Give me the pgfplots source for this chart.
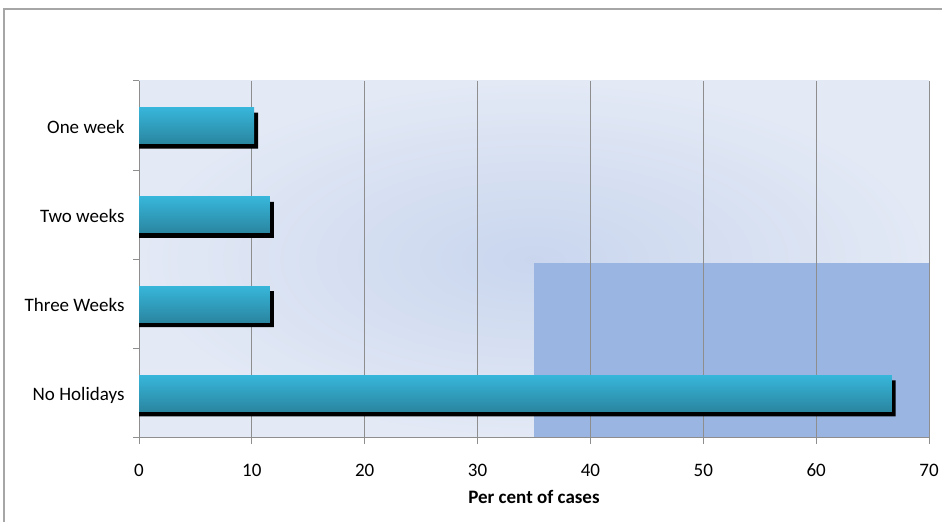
\documentclass[border=0pt]{standalone}
\usepackage{fontspec}
\setmainfont{Carlito}
\usepackage{pgfplots}
\pgfplotsset{compat=1.18}
\definecolor{barTop}{HTML}{37B6DA}
\definecolor{barBot}{HTML}{2A86A0}
\definecolor{bgIn}{HTML}{C9D6EE}
\definecolor{bgOut}{HTML}{E3E9F5}
\definecolor{darkRect}{HTML}{9BB5E3}
\definecolor{gridc}{HTML}{8E8E8E}
\definecolor{framec}{HTML}{A6A6A6}
\begin{document}
\begin{tikzpicture}
\draw[framec, line width=1.5pt] (4pt,0pt) -- (4pt,513pt) -- (942pt,513pt);
\begin{axis}[
 set layers=standard,
 at={(139pt,84pt)}, anchor=south west,
 scale only axis, width=790pt, height=357pt,
 xmin=0, xmax=70, ymin=-0.5, ymax=3.5,
 xtick={0,10,...,70},
 ytick={0,1,2,3},
 yticklabels={No Holidays, Three Weeks, Two weeks, One week},
 minor ytick={-0.5,0.5,1.5,2.5,3.5},
 axis x line*=bottom, axis y line*=left,
 axis line style={gridc, line width=1pt, -},
 tick align=outside,
 major tick length=6pt, minor tick length=6pt,
 major y tick style={draw=none},
 minor y tick style={gridc, line width=1pt},
 major x tick style={gridc, line width=1pt},
 xmajorgrids, grid style={gridc, line width=0.8pt},
 tick label style={font=\fontsize{19}{22}\selectfont, text=black},
 typeset ticklabels with strut,
 yticklabel style={xshift=-5pt, yshift=-3pt},
 xticklabel style={yshift=-14pt},
 /pgf/number format/assume math mode=true,
 xlabel={Per cent of cases},
 xlabel style={font=\fontsize{19}{22}\selectfont\bfseries, yshift=0pt},
 axis background/.style={shade, inner color=bgIn, outer color=bgOut},
 bars/.style={xbar, bar width=36pt, bar shift=0pt, draw=none, top color=barTop, bottom color=barBot},
]
\begin{pgfonlayer}{axis background}
\fill[darkRect] (axis cs:35,-0.5) rectangle (axis cs:70,1.46);
\end{pgfonlayer}
\addplot[xbar, bar width=36pt, bar shift=-5pt, draw=none, fill=black, forget plot]
  coordinates {(67.05,0) (11.95,1) (11.95,2) (10.55,3)};
\addplot[bars] coordinates {(66.7,0)};
\addplot[bars] coordinates {(11.6,1)};
\addplot[bars] coordinates {(11.6,2)};
\addplot[bars] coordinates {(10.2,3)};
\end{axis}
\pgfresetboundingbox
\useasboundingbox (0pt,0pt) rectangle (942pt,522pt);
\end{tikzpicture}
\end{document}
